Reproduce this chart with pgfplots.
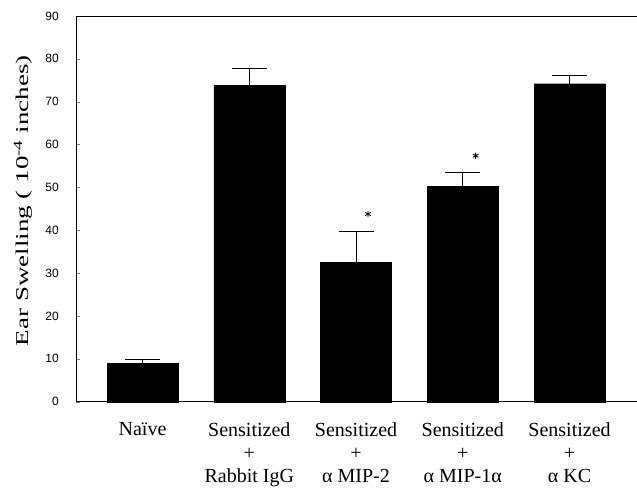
\documentclass[border=0pt]{standalone}
\usepackage{graphicx}
\usepackage{fontspec}
\setmainfont{Liberation Serif}
\newfontfamily\labelsans{Liberation Sans}
\usepackage{pgfplots}
\pgfplotsset{compat=1.18}

\begin{document}
\begin{tikzpicture}
\begin{axis}[
  at={(0,0)}, anchor=south west,
  scale only axis, width=561pt, height=385.7pt,
  xmin=-0.623, xmax=4.632, ymin=0, ymax=90,
  axis lines*=left,
  axis line style={line width=0.9pt},
  tick align=inside,
  major tick length=4pt,
  ytick={0,10,...,90},
  yticklabel style={font=\labelsans\fontsize{12}{14}\selectfont, anchor=east, inner sep=0pt, xshift=-17pt},
  /pgf/number format/assume math mode=true,
  xtick={0,1,2,3,4},
  xticklabels={
    {Naïve},
    {Sensitized\\+\\Rabbit IgG},
    {Sensitized\\+\\α MIP-2},
    {Sensitized\\+\\α MIP-1α},
    {Sensitized\\+\\α KC}
  },
  xticklabel style={font=\fontsize{20}{23.2}\selectfont, align=center, anchor=north, inner sep=0pt, yshift=-20.3pt},
  x tick style={draw=none},
  clip=false,
]
% group means with the upper half of their error bars
\addplot[ybar, bar width=71pt, fill=black, draw=black,
  error bars/.cd, y dir=plus, y explicit,
  error bar style={black, line width=0.8pt},
  error mark options={black, rotate=90, mark size=17.5pt, line width=1pt}]
  coordinates {
    (0,8.95) +- (0,1.01)
    (1,73.8) +- (0,3.9)
    (2,32.5) +- (0,7.1)
    (3,50.3) +- (0,3.1)
    (4,74.2) +- (0,2.0)
  };
% significance markers
\addplot[only marks, mark=asterisk, mark size=3.2pt, line width=0.9pt, black] coordinates {(2.112,43.8) (3.121,57.4)};
\draw[line width=0.9pt] (rel axis cs:0,1) -- (rel axis cs:1,1);
\end{axis}
% the axis title is set letter-spaced along its length
\node[rotate=90, anchor=base, font=\fontsize{18}{20}\selectfont] at (-47.5pt,201pt)
  {\scalebox{1.5}[1]{Ear Swelling ( 10\textsuperscript{-4} inches)}};
\pgfresetboundingbox
\useasboundingbox (-76pt,-86.3pt) rectangle (561pt,401.7pt);
\end{tikzpicture}
\end{document}
